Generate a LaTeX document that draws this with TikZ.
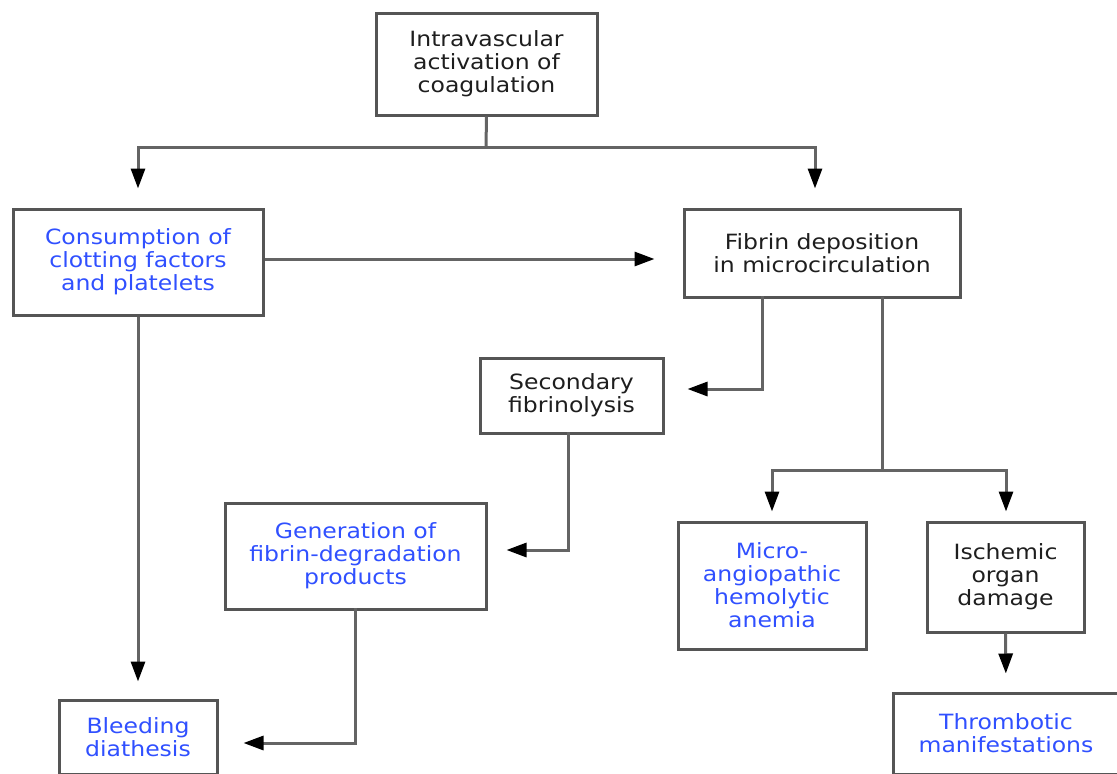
\documentclass[tikz,border=0pt]{standalone}
\usepackage{fontspec}
\setmainfont{DejaVu Sans}[FakeStretch=1.12]
\usetikzlibrary{arrows.meta}
\definecolor{txtblue}{RGB}{48,80,255}
\definecolor{txtdark}{RGB}{30,30,30}
\definecolor{boxline}{RGB}{85,85,85}
\definecolor{conline}{RGB}{100,100,100}
\tikzset{
  box/.style={draw=boxline, line width=3pt, fill=white, inner sep=0pt, align=center,
    font=\fontsize{21}{23}\selectfont, text=txtdark},
  bluetext/.style={text=txtblue},
  conn/.style={draw=conline, line width=3pt},
  arr/.style={conn, -{Triangle[length=20pt,width=14pt,color=black]}},
}
\begin{document}
\begin{tikzpicture}[x=1pt,y=-1pt]
\useasboundingbox (0,0) rectangle (1117,774);
\clip (0,0) rectangle (1117,774);
% nodes
\node[box, minimum width=221pt, minimum height=102pt] (top) at (486.5,64) {Intravascular\\activation of\\coagulation};
\node[box, bluetext, minimum width=250pt, minimum height=106pt] (cons) at (138,262) {Consumption of\\clotting factors\\and platelets};
\node[box, minimum width=276pt, minimum height=88pt] (fib) at (822,253) {Fibrin deposition\\in microcirculation};
\node[box, minimum width=183pt, minimum height=75pt] (sec) at (571.5,395.5) {Secondary\\fibrinolysis};
\node[box, bluetext, minimum width=261pt, minimum height=106pt] (gen) at (355.5,556) {Generation of\\fibrin-degradation\\products};
\node[box, bluetext, minimum width=158pt, minimum height=74pt] (bleed) at (138,737) {Bleeding\\diathesis};
\node[box, bluetext, minimum width=188pt, minimum height=127pt] (micro) at (772,585.5) {Micro-\\angiopathic\\hemolytic\\anemia};
\node[box, minimum width=157pt, minimum height=110pt] (isch) at (1005.5,577) {Ischemic\\organ\\damage};
\node[box, bluetext, minimum width=226pt, minimum height=81pt] (thromb) at (1006,733.5) {Thrombotic\\manifestations};
% junction coordinates
\coordinate (j1) at (486,147);
\coordinate (j1l) at (138,147);
\coordinate (j1r) at (815,147);
\coordinate (f1) at (762,297);
\coordinate (f1b) at (762,389);
\coordinate (f2) at (882,297);
\coordinate (j2) at (882,470);
\coordinate (j2l) at (772,470);
\coordinate (j2r) at (1006,470);
\coordinate (s1) at (568,433);
\coordinate (s1b) at (568,550);
\coordinate (g1) at (355,609);
\coordinate (g1b) at (355,743);
% connectors
\draw[conn] (top.south) -- (j1);
\draw[conn, line cap=rect] (j1l) -- (j1r);
\draw[arr, shorten >=19pt] (j1l) -- (j1l |- cons.north);
\draw[arr, shorten >=19pt] (j1r) -- (j1r |- fib.north);
\draw[arr, shorten >=28pt] (cons.east |- 0,259) -- (fib.west |- 0,259);
\draw[arr, shorten >=17pt] (cons.south) -- (bleed.north);
\draw[conn, line cap=rect] (f1) -- (f1b);
\draw[arr, shorten >=23pt] (f1b) -- (sec.east |- f1b);
\draw[conn, line cap=rect] (s1) -- (s1b);
\draw[arr, shorten >=19pt] (s1b) -- (gen.east |- s1b);
\draw[conn, line cap=rect] (g1) -- (g1b);
\draw[arr, shorten >=25pt] (g1b) -- (bleed.east |- g1b);
\draw[conn] (f2) -- (j2);
\draw[conn, line cap=rect] (j2l) -- (j2r);
\draw[arr, shorten >=9pt] (j2l) -- (micro.north);
\draw[arr, shorten >=9pt] (j2r) -- (j2r |- isch.north);
\draw[arr, shorten >=18pt] (isch.south) -- (thromb.north);
\end{tikzpicture}
\end{document}
